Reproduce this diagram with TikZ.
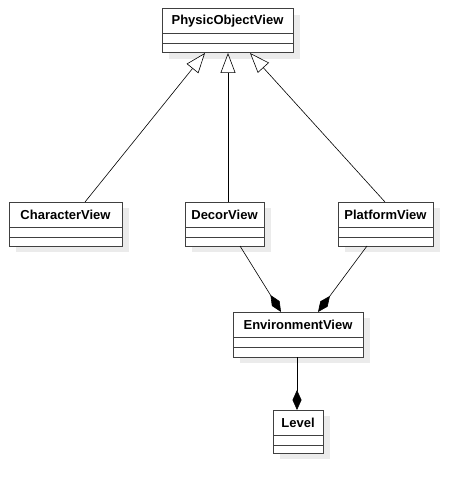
\documentclass[tikz,border=0pt]{standalone}
\usepackage{fontspec}
\setmainfont{Liberation Sans}
\usetikzlibrary{arrows.meta,fit}
\definecolor{shadowc}{HTML}{EBEBEB}
\definecolor{linec}{HTML}{404040}
\tikzset{
  clsbox/.style={draw=linec, line width=1pt, fill=white, inner sep=0pt},
  clstitle/.style={font=\fontsize{13}{15}\selectfont\bfseries, inner sep=0pt},
  gen/.style={draw=black, line width=0.6pt, -{Triangle[open, length=20pt, width=15pt, fill=white]}},
  comp/.style={draw=black, line width=0.6pt, -{Diamond[length=20pt, width=9pt, fill=black]}},
}
\newcommand{\umlcls}[6]{%
  \fill[shadowc] (#2+7,-#3-6) rectangle (#4+7,-#5-6);
  \node[clsbox, fit={(#2,-#3)(#4,-#5)}] (#1) {};
  \node[clstitle] (#1-t) at ({(#2+#4)/2},{-#3-12.5}) {#6};
  \draw[linec, line width=1pt] (#2,{-#3-25}) -- (#4,{-#3-25});
  \draw[linec, line width=1pt] (#2,{-#3-35}) -- (#4,{-#3-35});
}
\begin{document}
\begin{tikzpicture}[x=1pt,y=1pt]
\useasboundingbox (0,0) rectangle (473,-494);
\umlcls{pov}{162}{9}{293}{53}{PhysicObjectView}
\umlcls{cv}{9}{202}{122}{246}{CharacterView}
\umlcls{dv}{185}{202}{264}{246}{DecorView}
\umlcls{pv}{338}{202}{433}{246}{PlatformView}
\umlcls{ev}{233}{312}{363}{357}{EnvironmentView}
\umlcls{lv}{273}{410}{323}{453}{Level}
\coordinate (cvT) at (85,-202);
\coordinate (povA) at (205,-53);
\coordinate (dvT) at (228,-202);
\coordinate (povB) at (228,-53);
\coordinate (pvT) at (385,-202);
\coordinate (povC) at (250,-53);
\coordinate (dvB) at (240,-246);
\coordinate (evA) at (281,-312);
\coordinate (pvB) at (367,-246);
\coordinate (evB) at (318,-312);
\coordinate (evBot) at (297,-357);
\coordinate (lvT) at (297,-410);
\draw[gen] (cvT) -- (povA);
\draw[gen] (dvT) -- (povB);
\draw[gen] (pvT) -- (povC);
\draw[comp] (dvB) -- (evA);
\draw[comp] (pvB) -- (evB);
\draw[comp] (evBot) -- (lvT);
\end{tikzpicture}
\end{document}
